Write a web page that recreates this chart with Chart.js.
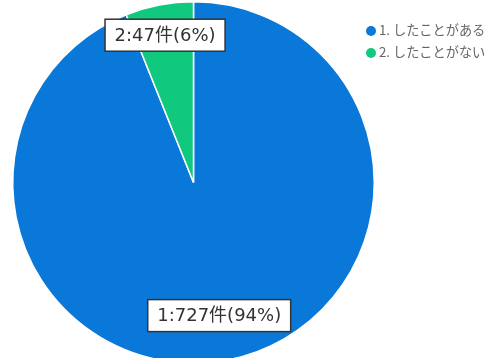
<!DOCTYPE html>
<html>
<head>
<meta charset="utf-8">
<script src="https://cdn.jsdelivr.net/npm/chart.js@4"></script>
<style>
  html, body { margin: 0; padding: 0; background: #fff; overflow: hidden; }
  #wrap { position: absolute; left: 0; top: 0; width: 496px; height: 370px; }
  #legend { position: absolute; left: 366px; top: 21px; font-family: "Noto Sans CJK JP", sans-serif; font-size: 13.2px; color: #666; }
  #legend div { height: 22px; line-height: 18px; white-space: nowrap; }
  #legend span.dot { display: inline-block; width: 10px; height: 10px; border-radius: 50%; vertical-align: -1px; margin-right: 3px; }
</style>
</head>
<body>
<div id="wrap"><canvas id="pie" width="496" height="370"></canvas></div>
<div id="legend"></div>
<script>
// 回答データ
const labels = ["1. したことがある", "2. したことがない"];
const counts = [727, 47];
const colors = ["#0a78d8", "#10c97f"];
// ラベル位置（半径に対する割合）
const labelDist = [0.75, 0.83];

// 凡例
const legendEl = document.getElementById("legend");
labels.forEach((l, i) => {
  const row = document.createElement("div");
  row.innerHTML = `<span class="dot" style="background:${colors[i]}"></span>${l}`;
  legendEl.appendChild(row);
});

// 件数と割合のボックス
const boxLabels = {
  id: "boxLabels",
  afterDatasetsDraw(chart) {
    const ctx = chart.ctx;
    const total = counts.reduce((a, b) => a + b, 0);
    const arcs = chart.getDatasetMeta(0).data;
    ctx.save();
    ctx.font = '18px "DejaVu Sans", "Noto Sans CJK JP", sans-serif';
    ctx.textAlign = "center";
    ctx.textBaseline = "middle";
    arcs.forEach((arc, i) => {
      const mid = (arc.startAngle + arc.endAngle) / 2;
      const d = arc.outerRadius * labelDist[i];
      const x = arc.x + Math.cos(mid) * d;
      const y = arc.y + Math.sin(mid) * d;
      const text = `${i + 1}:${counts[i]}件(${Math.round(counts[i] / total * 100)}%)`;
      const w = ctx.measureText(text).width + 19;
      const h = 32;
      ctx.fillStyle = "#fff";
      ctx.fillRect(x - w / 2, y - h / 2, w, h);
      ctx.strokeStyle = "#333";
      ctx.lineWidth = 1.5;
      ctx.strokeRect(x - w / 2, y - h / 2, w, h);
      ctx.fillStyle = "#333";
      ctx.fillText(text, x, y + 1);
    });
    ctx.restore();
  }
};

new Chart(document.getElementById("pie"), {
  type: "pie",
  data: {
    labels,
    datasets: [{
      data: counts,
      backgroundColor: colors,
      borderColor: "#fff",
      borderWidth: 1.5
    }]
  },
  options: {
    responsive: false,
    animation: false,
    layout: { padding: { left: 12, top: 1, right: 121, bottom: 6 } },
    plugins: { legend: { display: false }, tooltip: { enabled: false } }
  },
  plugins: [boxLabels]
});
</script>
</body>
</html>
